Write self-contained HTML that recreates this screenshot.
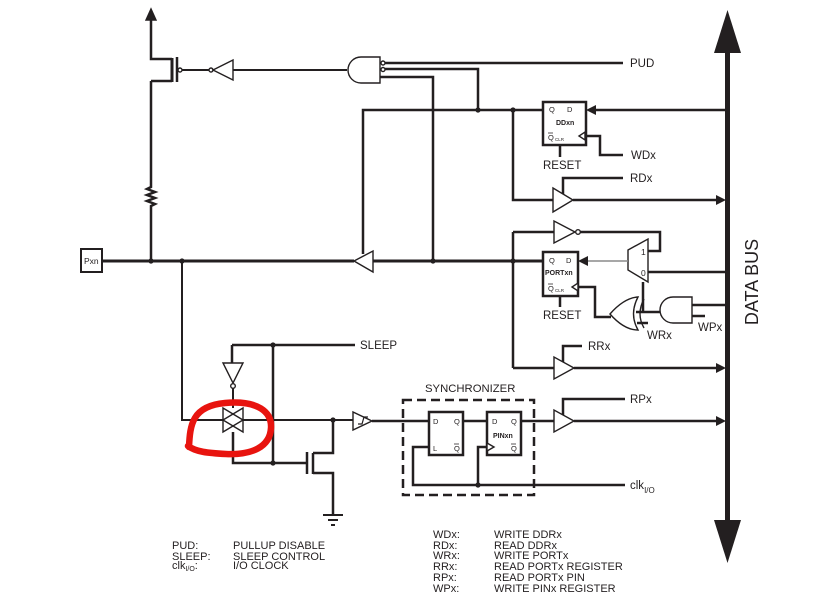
<!DOCTYPE html>
<html><head><meta charset="utf-8"><style>
html,body{margin:0;padding:0;background:#fff;}
svg{display:block;}
text{font-family:"Liberation Sans",Arial,sans-serif;fill:#231f20;}
</style></head><body>
<svg width="817" height="608" viewBox="0 0 817 608" xmlns="http://www.w3.org/2000/svg">
<rect width="817" height="608" fill="#fff"/>
<g stroke="#231f20" fill="none" stroke-width="2.5" stroke-linejoin="miter">
<!-- pullup -->
<path d="M151,19 V59 H172 M151,81 H172 M151,81 V187 L147,189 L155,192 L147,195 L155,198 L147,201 L155,204 L151,206 V261"/>
<path d="M172,58 V82" stroke-width="3"/>
<path d="M177,57 V82"/>
<path d="M182,70 H209" stroke-width="2"/>
<path d="M233,70 H347" stroke-width="2"/>
<!-- AND inputs -->
<path d="M385,63 H623 M385,69 H478 V110 M380,77 H433 V261"/>
<path d="M363,254 V110 H543"/>
<path d="M513,110 V200 H553"/>
<path d="M573,200 H717"/>
<path d="M563,195 V178 H623"/>
<rect x="543" y="102" width="43" height="43"/>
<path d="M725,110 H595"/>
<path d="M586,136 H600 V155 H623"/>
<path d="M560,145 V157"/>
<!-- Pxn -->
<rect x="81" y="249" width="21" height="23" stroke-width="2"/>
<path d="M102,261 H354 M373,261 H543" stroke-width="3"/>
<!-- PORTxn -->
<path d="M513,232 V368 M513,232 H554"/>
<path d="M580,232 H660 V251 H648"/>
<path d="M725,272 H648"/>
<rect x="543" y="252" width="35" height="44"/>
<path d="M560,296 V307"/>
<path d="M578,287 H595 V317 H611"/>
<path d="M636,312 H660 M643,282 V312"/>
<path d="M637,323 H648"/>
<path d="M692,305 H725 M692,316 H705"/>
<path d="M513,368 H554 M574,368 H717"/>
<path d="M563,362 V346 H582"/>
<!-- lower left -->
<path d="M182,261 V420 H353" stroke-width="2"/>
<path d="M232,345 H355 M273,345 V463 M232,345 V363"/>
<path d="M233,388 V408" stroke-width="2"/>
<path d="M233,432 V463 H307"/>
<path d="M307,452 V474"/>
<path d="M313,453 V474"/>
<path d="M313,453 H333 V420 M313,473 H333 V515"/>
<path d="M323,515 H343 M328,520 H338 M331,525 H335" stroke-width="2"/>
<path d="M372,421 H429"/>
<!-- synchronizer -->
<rect x="403" y="400" width="131" height="95" stroke-dasharray="9 5"/>
<rect x="429" y="412" width="34" height="43"/>
<rect x="487" y="412" width="34" height="43"/>
<path d="M463,421 H487 M521,421 H554 M574,421 H717"/>
<path d="M563,416 V399 H625"/>
<path d="M429,447 H413 V485 H625 M478,485 V447 H487"/>
</g>
<!-- gates thin -->
<g stroke="#231f20" fill="#fff" stroke-width="1.4">
<polygon points="146,20 156,20 151,9" fill="#231f20"/>
<circle cx="180" cy="70" r="2"/>
<circle cx="211" cy="70" r="2"/>
<polygon points="213,70 233,60 233,80"/>
<path d="M380,57 L361,57 A13,13 0 0 0 361,83 L380,83 Z"/>
<circle cx="383" cy="63" r="2"/>
<circle cx="383" cy="69.5" r="2"/>
<polygon points="354,261 373,251 373,272"/>
<polygon points="553,188 553,212 573,200"/>
<polygon points="554,221 554,243 575,232"/>
<circle cx="578" cy="232" r="2.3"/>
<polygon points="628,250 648,239 648,282 628,270"/>
<path d="M638,297 Q624,298 610,314 Q624,330 638,330 Q629,314 638,297 Z"/>
<path d="M644,299 Q636,314 644,328" fill="none"/>
<path d="M692,297 L673,297 A13,13 0 0 0 673,323 L692,323 Z"/>
<polygon points="554,357 554,379 574,368"/>
<polygon points="223,363 243,363 233,383"/>
<circle cx="233" cy="386" r="2.3"/>
<polygon points="223,408 243,420 223,432"/>
<polygon points="243,408 223,420 243,432" fill="none"/>
<polygon points="353,412 353,430 372,421"/>
<path d="M358,424 H362 L364,417 H368" fill="none" stroke-width="1.2"/>
<polygon points="554,410 554,432 574,421"/>
<polygon points="585,132 585,140 579,136"/>
<polygon points="578,283 578,291 572,287"/>
<polygon points="487,443 487,451 494,447"/>
</g>
<g stroke="none" fill="#231f20">
<polygon points="716,195 716,205 726,200"/>
<polygon points="716,363 716,373 726,368"/>
<polygon points="716,416 716,426 726,421"/>
<polygon points="596,105 596,115 586,110"/>
<polygon points="588,256 588,266 578,261"/>
<rect x="725" y="50" width="5" height="472"/>
<polygon points="714,53 741,53 727.5,10"/>
<polygon points="714,520 741,520 727.5,563"/>
<circle cx="151" cy="261" r="2.6"/>
<circle cx="182" cy="261" r="2.6"/>
<circle cx="433" cy="261" r="2.6"/>
<circle cx="513" cy="261" r="2.6"/>
<circle cx="478" cy="110" r="2.6"/>
<circle cx="513" cy="110" r="2.6"/>
<circle cx="273" cy="345" r="2.6"/>
<circle cx="273" cy="463" r="2.6"/>
<circle cx="333" cy="420" r="2.6"/>
<circle cx="478" cy="485" r="2.6"/>
</g>
<path d="M628,261 H588" stroke="#8a8a8a" stroke-width="1.5"/>
<!-- red circle -->
<path d="M189,447 C190,425 192,406 225,403 C258,400 272,412 271,428 C270,447 252,455 226,454 C208,453 196,452 188,446" fill="none" stroke="#e8140f" stroke-width="6.5" stroke-linecap="round"/>
<!-- labels -->
<g font-size="11.5">
<text x="630" y="67">PUD</text>
<text x="631" y="159">WDx</text>
<text x="543" y="169">RESET</text>
<text x="630" y="182">RDx</text>
<text x="543" y="319">RESET</text>
<text x="647" y="339">WRx</text>
<text x="698" y="331">WPx</text>
<text x="588" y="350">RRx</text>
<text x="360" y="349">SLEEP</text>
<text x="425" y="392" font-size="11.3">SYNCHRONIZER</text>
<text x="630" y="403">RPx</text>
<text x="630" y="489">clk<tspan font-size="8" dy="4">I/O</tspan></text>
</g>
<text x="84" y="264" font-size="8.5">Pxn</text>
<g font-size="7.5">
<text x="549" y="112">Q</text>
<text x="567" y="112">D</text>
<text x="556" y="125" font-weight="bold" font-size="7">DDxn</text>
<text x="548" y="140">Q</text>
<text x="555" y="141" font-size="4.5">CLR</text>
<text x="549" y="263">Q</text>
<text x="566" y="263">D</text>
<text x="545" y="275" font-weight="bold" font-size="7">PORTxn</text>
<text x="548" y="291">Q</text>
<text x="555" y="292" font-size="4.5">CLR</text>
<text x="433" y="424">D</text>
<text x="454" y="424">Q</text>
<text x="433" y="451">L</text>
<text x="454" y="451">Q</text>
<text x="492" y="424">D</text>
<text x="511" y="424">Q</text>
<text x="493" y="438" font-weight="bold" font-size="7">PINxn</text>
<text x="511" y="451">Q</text>
<text x="641" y="255" font-size="8.5">1</text>
<text x="641" y="276" font-size="8.5">0</text>
</g>
<g stroke="#231f20" stroke-width="0.8">
<path d="M548,133 H553 M548,284 H553 M454,444 H459 M511,444 H516"/>
</g>
<text x="0" y="0" font-size="18" transform="translate(758,282) rotate(-90)" text-anchor="middle">DATA BUS</text>
<!-- legend -->
<g font-size="11">
<text x="172" y="549">PUD:</text>
<text x="233" y="549">PULLUP DISABLE</text>
<text x="172" y="560">SLEEP:</text>
<text x="233" y="560">SLEEP CONTROL</text>
<text x="172" y="569">clk<tspan font-size="7" dy="2">I/O</tspan><tspan dy="-2">:</tspan></text>
<text x="233" y="569">I/O CLOCK</text>
<text x="433" y="538">WDx:</text>
<text x="494" y="538">WRITE DDRx</text>
<text x="433" y="549">RDx:</text>
<text x="494" y="549">READ DDRx</text>
<text x="433" y="559">WRx:</text>
<text x="494" y="559">WRITE PORTx</text>
<text x="433" y="570">RRx:</text>
<text x="494" y="570">READ PORTx REGISTER</text>
<text x="433" y="581">RPx:</text>
<text x="494" y="581">READ PORTx PIN</text>
<text x="433" y="592">WPx:</text>
<text x="494" y="592">WRITE PINx REGISTER</text>
</g>
</svg>
</body></html>
